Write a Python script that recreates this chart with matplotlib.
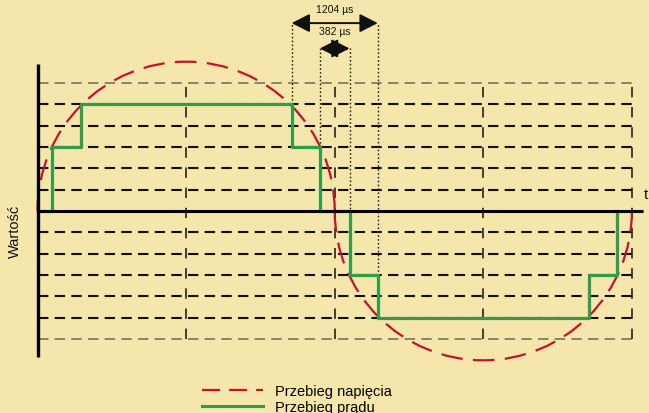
import matplotlib
matplotlib.use("Agg")
import matplotlib.pyplot as plt
from matplotlib.patches import Arc
from matplotlib.lines import Line2D

plt.rcParams['font.family'] = ['Liberation Sans', 'DejaVu Sans']
plt.rcParams['lines.scale_dashes'] = False

# ---- data ----
levels = [1, 2, 3, 4, 5, 6]                       # dashed grid levels (+/-)
quarter_marks = [1, 2, 3, 4]                        # vertical dashed lines
step_times = [0, 0.10, 0.29, 1.71, 1.90, 2.10, 2.29, 3.71, 3.90]
step_values = [0, 3, 5, 3, 0, -3, -5, -3, 0]
voltage_amplitude = 7.0
voltage_half_period = 2.0
dotted_times = [1.71, 1.90, 2.10, 2.29]
dotted_ends = [5, 3, -3, -5]
span_outer = (1.71, 2.29, "1204 µs")
span_inner = (1.90, 2.10, "382 µs")

BG = '#f5e6ab'
RED = '#c8102e'
GREEN = '#2f9e4a'

fig = plt.figure(figsize=(6.49, 4.14), dpi=100, facecolor=BG)
ax = fig.add_axes([0, 0, 1, 1])
ax.set_facecolor(BG)
ax.set_xlim(-0.2524, 4.115)
ax.set_ylim(-9.47, 9.94)
ax.axis('off')

# horizontal dashed grid
for lv in levels:
    for s in (1, -1):
        col = '#6a6a5a' if lv == 6 else '#111111'
        lw = 1.1 if lv == 6 else 1.5
        ax.plot([0, 4], [s * lv, s * lv], color=col, lw=lw,
                linestyle=(0, (7.5, 4.5)), zorder=1)

# vertical dashed lines
for q in quarter_marks:
    ax.plot([q, q], [-6, 6], color='#111111', lw=1.1,
            linestyle=(0, (7.5, 7)), zorder=1)

# dotted guide lines
top_outer = 8.81
top_inner = 7.62
for t, e in zip(dotted_times, dotted_ends):
    top = top_outer if t in (span_outer[0], span_outer[1]) else top_inner
    ax.plot([t, t], [e, top], color='#222222', lw=1.0,
            linestyle=(0, (1.2, 1.6)), zorder=1)

# voltage (dashed half ellipses)
h = voltage_half_period / 2
arc_kw = dict(color=RED, lw=1.6, linestyle=(0, (15.5, 7.5)), zorder=3)
ax.add_patch(Arc((h, 0), 2 * h, 2 * voltage_amplitude, theta1=0, theta2=180, **arc_kw))
ax.add_patch(Arc((3 * h, 0), 2 * h, 2 * voltage_amplitude, theta1=180, theta2=360, **arc_kw))

# current (step)
ax.plot(step_times, step_values, drawstyle='steps-post', color=GREEN, lw=2.3, zorder=4)

# axes lines (on top)
ax.plot([0, 4.075], [0, 0], color='black', lw=2.2, zorder=5, solid_capstyle='butt')
ax.plot([0, 0], [-6.85, 6.9], color='black', lw=2.4, zorder=5, solid_capstyle='butt')
ax.text(4.08, 0.45, 't', fontsize=11, ha='left', va='bottom', color='#111111')

# span arrows
for (a, b, lab), y, ty in ((span_outer, top_outer, 9.25), (span_inner, top_inner, 8.2)):
    ax.annotate('', xy=(b, y), xytext=(a, y),
                arrowprops=dict(arrowstyle='<|-|>,head_length=0.55,head_width=0.28',
                                mutation_scale=20, color='#111111', lw=1.4,
                                shrinkA=0, shrinkB=0))
    ax.text((a + b) / 2, ty, lab, fontsize=7.5, ha='center', va='bottom', color='#111111')

# y label
fig.text(15 / 649, 1 - 231 / 414, 'Wartość', rotation=90, fontsize=10.5,
         ha='center', va='center', color='#111111')

# legend
handles = [Line2D([], [], color=RED, lw=1.6, linestyle=(0, (13, 6.5))),
           Line2D([], [], color=GREEN, lw=2.2)]
fig.legend(handles, ['Przebieg napięcia', 'Przebieg prądu'],
           loc='upper left', bbox_to_anchor=(202 / 649, 1 - 385 / 414),
           bbox_transform=fig.transFigure, frameon=False, fontsize=10.5,
           handlelength=4.2, handletextpad=0.8, labelspacing=0.12,
           borderpad=0, borderaxespad=0)

fig.savefig('out.png', dpi=100, facecolor=BG)
